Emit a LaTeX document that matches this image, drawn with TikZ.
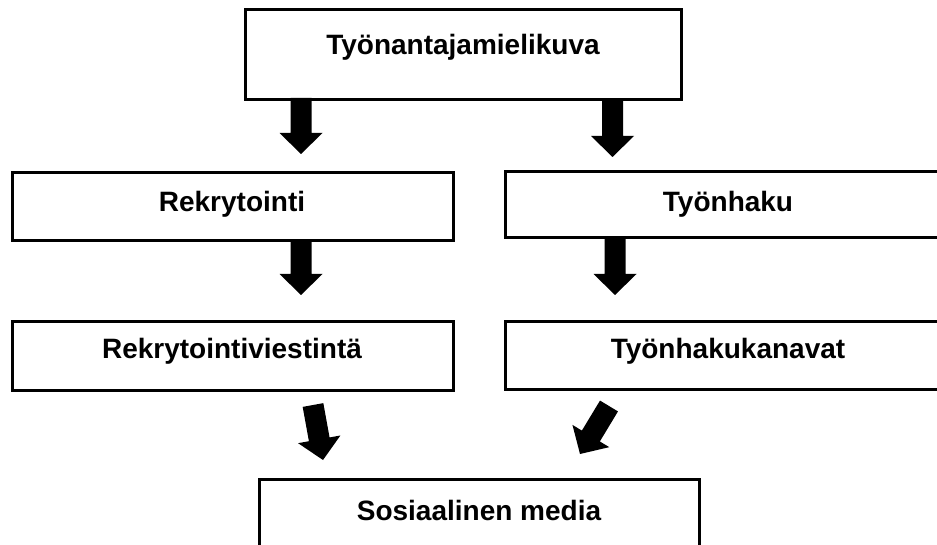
\documentclass[tikz,border=0pt]{standalone}
\usepackage{fontspec}
\setmainfont{Liberation Sans}
\usetikzlibrary{calc}
\tikzset{
  box/.style={draw=black, line width=3pt, fill=white, inner sep=0pt, outer sep=0pt},
  lbl/.style={anchor=base, font=\fontsize{28}{34}\selectfont\bfseries, inner sep=0pt, text=black},
  barrow/.style={fill=black},
}
\newcommand\blockarrow[2]{%
  \coordinate (bh) at ($(#2)!21pt!(#1)$);
  \fill[barrow] ($(#1)!10.5pt!90:(#2)$) -- ($(bh)!10.5pt!-90:(#1)$) -- ($(bh)!21.5pt!-90:(#1)$)
    -- (#2) -- ($(bh)!21.5pt!90:(#1)$) -- ($(bh)!10.5pt!90:(#1)$) -- ($(#1)!10.5pt!-90:(#2)$) -- cycle;
}
\begin{document}
\begin{tikzpicture}[x=1pt,y=-1pt]
\clip (0,0) rectangle (937,545);
\fill[white] (0,0) rectangle (937,545);
% boxes
\node[box, minimum width=436pt, minimum height=90pt] (top) at (463,55) {};
\node[box, minimum width=441pt, minimum height=68pt] (rek) at (232.5,206.5) {};
\node[box, minimum width=446pt, minimum height=66pt] (tyo) at (728,205) {};
\node[box, minimum width=441pt, minimum height=68pt] (rv) at (232.5,356) {};
\node[box, minimum width=446pt, minimum height=67pt] (tk) at (728,355.5) {};
\node[box, minimum width=440pt, minimum height=81pt] (sm) at (479,519.5) {};
% labels
\node[lbl] (ttop) at (463,55) {Työnantajamielikuva};
\node[lbl] (trek) at (232,212) {Rekrytointi};
\node[lbl] (ttyo) at (728,212) {Työnhaku};
\node[lbl] (trv) at (232,359) {Rekrytointiviestintä};
\node[lbl] (ttk) at (728,359) {Työnhakukanavat};
\node[lbl] (tsm) at (479,520) {Sosiaalinen media};
% arrow end points
\coordinate (a1s) at (301,98);   \coordinate (a1e) at (301,154);
\coordinate (a2s) at (612.5,101); \coordinate (a2e) at (612.5,157);
\coordinate (a3s) at (301,241);  \coordinate (a3e) at (301,295);
\coordinate (a4s) at (615,238);  \coordinate (a4e) at (615,295);
\coordinate (a5s) at (313,405);  \coordinate (a5e) at (323,460);
\coordinate (a6s) at (609,406);  \coordinate (a6e) at (580,454);
\blockarrow{a1s}{a1e}
\blockarrow{a2s}{a2e}
\blockarrow{a3s}{a3e}
\blockarrow{a4s}{a4e}
\blockarrow{a5s}{a5e}
\blockarrow{a6s}{a6e}
\end{tikzpicture}
\end{document}
